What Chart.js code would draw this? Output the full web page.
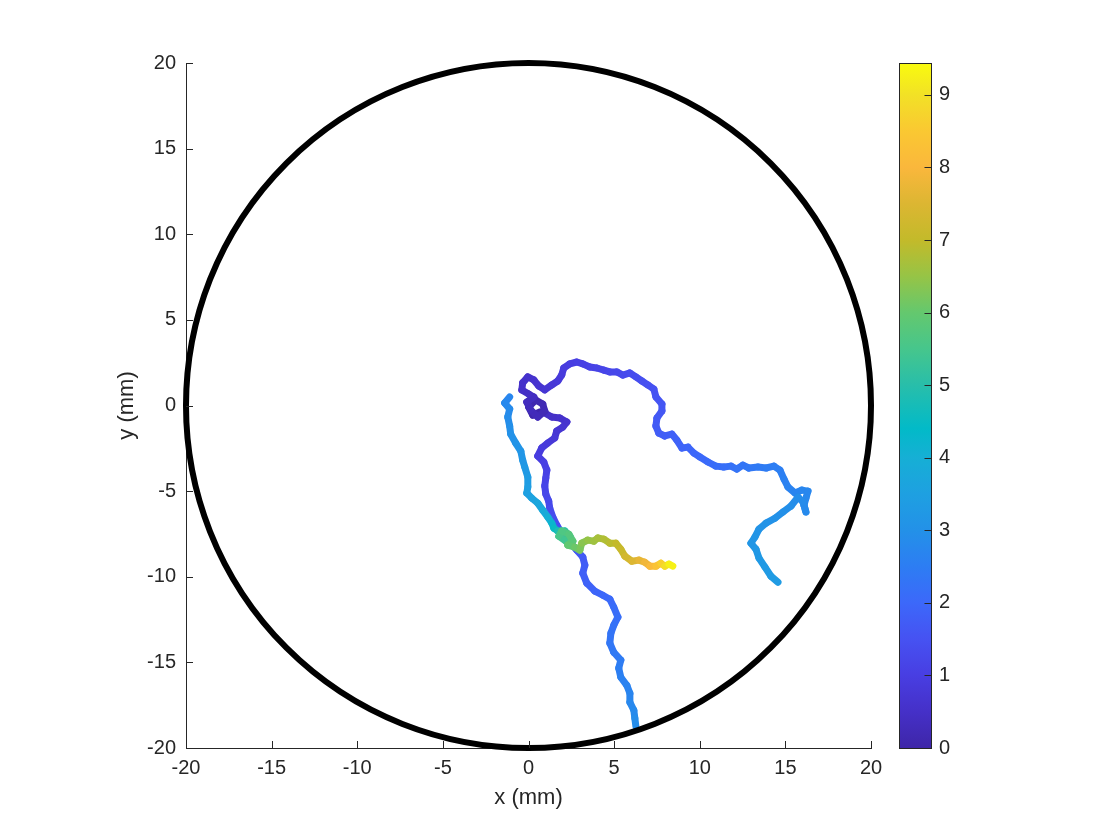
<!DOCTYPE html>
<html>
<head>
<meta charset="utf-8">
<script src="https://cdn.jsdelivr.net/npm/chart.js@4.4.1/dist/chart.umd.min.js"></script>
<style>
  html, body { margin: 0; padding: 0; background: #fff; }
  #wrap { width: 1120px; height: 840px; }
</style>
</head>
<body>
<div id="wrap"><canvas id="chart"></canvas></div>
<script>
// tracked positions (mm) and time stamps (colour value)

// track 1: centre blob -> top arc -> far right -> down
const track1X = [0.66, 0.25, 0.01, 0.42, 0.83, 0.95, 0.54, 0.13, -0.10, 0.31, 0.01, -0.39, -0.34, -0.04, 0.31, 0.60,
  0.95, 1.36, 1.71, 1.94, 2.06, 2.41, 2.82, 3.17, 3.58, 3.99, 4.40, 4.75, 5.16, 5.51, 5.92, 6.27, 6.62, 6.97, 7.32,
  7.44, 7.79, 7.79, 7.50, 7.44, 7.61, 7.96, 8.37, 8.66, 8.96, 9.31, 9.66, 10.01, 10.48, 10.94, 11.41, 11.82, 12.17,
  12.52, 12.87, 13.40, 13.87, 14.33, 14.68, 14.92, 15.15, 15.56, 15.97, 16.32, 16.20, 16.09, 16.20, 16.03, 15.74,
  15.33, 14.86, 14.39, 13.87, 13.46, 13.22, 12.99, 13.28, 13.46, 13.81, 14.16, 14.57];
const track1Y = [-0.38, -0.56, -0.09, 0.32, 0.09, -0.32, -0.67, -0.26, 0.20, 0.50, 0.67, 0.91, 1.32, 1.67, 1.49, 1.14,
  0.91, 1.20, 1.43, 1.78, 2.19, 2.43, 2.54, 2.43, 2.25, 2.19, 2.07, 1.96, 1.96, 1.78, 1.90, 1.67, 1.43, 1.20, 0.96,
  0.50, 0.09, -0.32, -0.73, -1.20, -1.61, -1.78, -1.67, -2.02, -2.48, -2.43, -2.78, -3.01, -3.30, -3.54, -3.59, -3.54,
  -3.71, -3.48, -3.65, -3.59, -3.65, -3.54, -3.77, -4.30, -4.76, -5.11, -4.94, -5.00, -5.41, -5.82, -6.22, -5.64,
  -5.35, -5.87, -6.22, -6.58, -6.87, -7.22, -7.69, -8.04, -8.39, -8.91, -9.44, -9.97, -10.32];
const track1T = [0.00, 0.04, 0.08, 0.12, 0.16, 0.20, 0.24, 0.28, 0.32, 0.36, 0.42, 0.48, 0.52, 0.56, 0.60, 0.64,
  0.68, 0.74, 0.80, 0.85, 0.90, 0.95, 1.00, 1.04, 1.08, 1.12, 1.16, 1.20, 1.24, 1.28, 1.32, 1.36, 1.40, 1.44, 1.48,
  1.52, 1.56, 1.60, 1.64, 1.68, 1.72, 1.76, 1.80, 1.84, 1.88, 1.92, 1.96, 2.00, 2.05, 2.10, 2.15, 2.20, 2.25,
  2.30, 2.34, 2.40, 2.45, 2.50, 2.54, 2.58, 2.62, 2.66, 2.70, 2.73, 2.76, 2.79, 2.82, 2.85, 2.88,
  2.92, 2.96, 3.00, 3.04, 3.08, 3.12, 3.16, 3.20, 3.24, 3.28, 3.32, 3.36];

// track 2: centre -> down to the wall
const track2X = [0.95, 1.36, 1.83, 2.24, 2.00, 1.65, 1.53, 1.13, 0.77, 0.54, 0.89, 1.07, 1.01, 0.95, 1.01, 1.18,
  1.24, 1.42, 1.65, 2.00, 2.41, 2.82, 3.17, 3.29, 3.17, 3.40, 3.87, 4.34, 4.75, 4.98, 5.22, 4.98, 4.81, 4.75, 4.98,
  5.39, 5.27, 5.39, 5.74, 5.92, 5.92, 6.15, 6.21, 6.27];
const track2Y = [-0.44, -0.67, -0.73, -0.96, -1.26, -1.49, -1.90, -2.19, -2.48, -2.95, -3.30, -3.77, -4.24, -4.70,
  -5.17, -5.58, -5.99, -6.52, -6.98, -7.57, -7.98, -8.45, -8.85, -9.32, -9.79, -10.37, -10.84, -11.08, -11.31,
  -11.78, -12.36, -12.83, -13.30, -13.88, -14.41, -14.87, -15.34, -15.87, -16.34, -16.80, -17.33, -17.80, -18.26,
  -18.73];
const track2T = [0.40, 0.46, 0.52, 0.58, 0.64, 0.70, 0.76, 0.82, 0.88, 0.94, 1.00, 1.05, 1.10, 1.15, 1.20, 1.25,
  1.30, 1.36, 1.42, 1.48, 1.54, 1.60, 1.66, 1.72, 1.78, 1.84, 1.90, 1.96, 2.02, 2.08, 2.14, 2.20, 2.26, 2.32, 2.38,
  2.44, 2.50, 2.56, 2.62, 2.68, 2.74, 2.80, 2.86, 2.92];

// track 3: left side -> green cluster -> yellow end
const track3X = [-1.10, -1.39, -1.10, -1.21, -1.10, -1.04, -0.75, -0.45, -0.34, -0.22, -0.04, -0.04, -0.10, 0.19,
  0.54, 0.83, 1.13, 1.36, 1.48, 1.71, 2.12, 2.41, 2.18, 1.77, 1.94, 2.35, 2.59, 2.29, 2.70, 3.00, 3.11, 3.46, 3.81,
  4.05, 4.40, 4.75, 5.10, 5.39, 5.63, 6.03, 6.44, 6.79, 7.09, 7.44, 7.73, 7.96, 8.20, 8.43];
const track3Y = [0.50, 0.15, -0.20, -0.67, -1.20, -1.67, -2.19, -2.66, -3.19, -3.59, -4.18, -4.76, -5.11, -5.41,
  -5.70, -6.11, -6.52, -6.87, -7.16, -7.33, -7.33, -7.63, -7.92, -7.63, -7.33, -7.51, -7.92, -8.15, -8.27, -8.45,
  -8.04, -7.86, -7.92, -7.74, -7.80, -8.04, -8.04, -8.39, -8.80, -9.09, -9.03, -9.15, -9.38, -9.38, -9.21, -9.38,
  -9.26, -9.38];
const track3T = [2.70, 2.76, 2.82, 2.88, 2.94, 3.00, 3.06, 3.12, 3.18, 3.24, 3.32, 3.40, 3.46, 3.54,
  3.64, 3.76, 3.90, 4.10, 4.35, 4.70, 5.00, 5.20, 5.35, 5.50, 5.60, 5.70, 5.80, 5.90, 6.00, 6.15, 6.30, 6.45, 6.55,
  6.65, 6.75, 6.85, 6.95, 7.05, 7.20, 7.40, 7.60, 7.75, 7.95, 8.20, 8.50, 8.80, 9.10, 9.44];

const axisTicks = [-20, -15, -10, -5, 0, 5, 10, 15, 20];
const colorbarTicks = [0, 1, 2, 3, 4, 5, 6, 7, 8, 9];
const colorMax = 9.44;
const arenaRadius = 20;

// parula-like colormap, sampled from the colorbar
const cmapVals = [0, 0.5, 1, 1.5, 2, 2.5, 3, 3.5, 4, 4.4, 5, 5.5, 6, 6.5, 7, 7.5, 8, 8.5, 9, 9.44];
const cmapRGB = [[62, 38, 168], [69, 48, 200], [72, 62, 226], [70, 82, 242], [60, 104, 250], [45, 125, 243],
  [35, 145, 232], [30, 160, 225], [22, 175, 213], [2, 186, 200], [40, 190, 170], [70, 198, 140], [100, 200, 110],
  [150, 196, 70], [195, 186, 42], [220, 182, 50], [250, 183, 60], [250, 200, 50], [242, 225, 38], [249, 251, 14]];

function colorAt(v) {
  if (v <= cmapVals[0]) return 'rgb(' + cmapRGB[0].join(',') + ')';
  for (let i = 1; i < cmapVals.length; i++) {
    if (v <= cmapVals[i]) {
      const f = (v - cmapVals[i - 1]) / (cmapVals[i] - cmapVals[i - 1]);
      const a = cmapRGB[i - 1], b = cmapRGB[i];
      return 'rgb(' + a.map((c, k) => Math.round(c + (b[k] - c) * f)).join(',') + ')';
    }
  }
  return 'rgb(' + cmapRGB[cmapRGB.length - 1].join(',') + ')';
}

const FONT = "'Liberation Sans', Arial, Helvetica, sans-serif";
const AXIS = '#262626';

const tracks = [
  { x: track3X, y: track3Y, t: track3T },
  { x: track1X, y: track1Y, t: track1T },
  { x: track2X, y: track2Y, t: track2T }
];

const datasets = tracks.map((tr, n) => ({
  data: tr.x.map((x, i) => ({ x: x, y: tr.y[i] })),
  showLine: true,
  order: n,
  borderWidth: 7,
  borderColor: colorAt(tr.t[0]),
  borderCapStyle: 'round',
  borderJoinStyle: 'round',
  pointRadius: 0,
  pointHoverRadius: 0,
  tension: 0,
  segment: {
    borderColor: ctx => colorAt((tr.t[ctx.p0DataIndex] + tr.t[ctx.p1DataIndex]) / 2)
  }
}));

// no overflow padding for tick labels, so the plot box sits where it should
function noOverflow(s) {
  s.paddingTop = 0;
  s.paddingBottom = 0;
  s.paddingLeft = 0;
  s.paddingRight = 0;
}

// arena circle, inward ticks and the colorbar
const extrasPlugin = {
  id: 'extras',
  afterDatasetsDraw(chart) {
    const { ctx, scales: { x, y } } = chart;
    const cx = x.getPixelForValue(0), cy = y.getPixelForValue(0);
    const r = x.getPixelForValue(arenaRadius) - cx;
    ctx.save();
    ctx.beginPath();
    ctx.arc(cx, cy, r, 0, Math.PI * 2);
    ctx.lineWidth = 6;
    ctx.strokeStyle = '#000';
    ctx.stroke();
    ctx.restore();
  },
  afterDraw(chart) {
    const { ctx, chartArea, scales: { x, y, cb } } = chart;
    ctx.save();
    ctx.strokeStyle = AXIS;
    ctx.lineWidth = 1;
    ctx.beginPath();
    axisTicks.forEach(v => {
      const px = Math.round(x.getPixelForValue(v)) + 0.5;
      ctx.moveTo(px, chartArea.bottom);
      ctx.lineTo(px, chartArea.bottom - 7);
      const py = Math.round(y.getPixelForValue(v)) + 0.5;
      ctx.moveTo(chartArea.left, py);
      ctx.lineTo(chartArea.left + 7, py);
    });
    ctx.stroke();

    // colorbar
    const left = chartArea.right + 28.5, right = left + 32;
    const top = cb.getPixelForValue(colorMax), bottom = cb.getPixelForValue(0);
    const grad = ctx.createLinearGradient(0, bottom, 0, top);
    cmapVals.forEach((v, i) => grad.addColorStop(v / colorMax, 'rgb(' + cmapRGB[i].join(',') + ')'));
    ctx.fillStyle = grad;
    ctx.fillRect(left, top, right - left, bottom - top);
    ctx.strokeStyle = AXIS;
    ctx.strokeRect(left, Math.round(top) + 0.5, right - left, Math.round(bottom) - Math.round(top));
    ctx.beginPath();
    colorbarTicks.forEach(v => {
      const py = Math.round(cb.getPixelForValue(v)) + 0.5;
      ctx.moveTo(right, py);
      ctx.lineTo(right - 7, py);
    });
    ctx.stroke();
    ctx.restore();
  }
};

const tickFont = { family: FONT, size: 20 };
const titleFont = { family: FONT, size: 22 };

new Chart(document.getElementById('chart'), {
  type: 'scatter',
  data: { datasets: datasets },
  options: {
    responsive: true,
    maintainAspectRatio: false,
    animation: false,
    events: [],
    layout: { padding: { top: 63, left: 0, right: 0, bottom: 0 } },
    plugins: { legend: { display: false }, tooltip: { enabled: false } },
    scales: {
      x: {
        type: 'linear',
        min: -20,
        max: 20,
        afterBuildTicks: s => { s.ticks = axisTicks.map(v => ({ value: v })); },
        afterFit: s => { s.height = 92; noOverflow(s); },
        grid: { drawOnChartArea: false, drawTicks: false },
        border: { color: AXIS, width: 1 },
        ticks: { font: tickFont, color: AXIS, padding: 8, maxRotation: 0, autoSkip: false },
        title: { display: true, text: 'x (mm)', font: titleFont, color: AXIS, padding: { top: 0, bottom: 29 } }
      },
      y: {
        type: 'linear',
        min: -20,
        max: 20,
        afterBuildTicks: s => { s.ticks = axisTicks.map(v => ({ value: v })); },
        afterFit: s => { s.width = 186; noOverflow(s); },
        grid: { drawOnChartArea: false, drawTicks: false },
        border: { color: AXIS, width: 1 },
        ticks: { font: tickFont, color: AXIS, padding: 10, autoSkip: false },
        title: { display: true, text: 'y (mm)', font: titleFont, color: AXIS, padding: { top: 114, bottom: 0 } }
      },
      cb: {
        type: 'linear',
        position: 'right',
        min: 0,
        max: colorMax,
        afterBuildTicks: s => { s.ticks = colorbarTicks.map(v => ({ value: v })); },
        afterFit: s => { s.width = 249; noOverflow(s); },
        grid: { display: false, drawOnChartArea: false, drawTicks: false },
        border: { display: false },
        ticks: { font: tickFont, color: AXIS, padding: 68, autoSkip: false }
      }
    }
  },
  plugins: [extrasPlugin]
});
</script>
</body>
</html>
